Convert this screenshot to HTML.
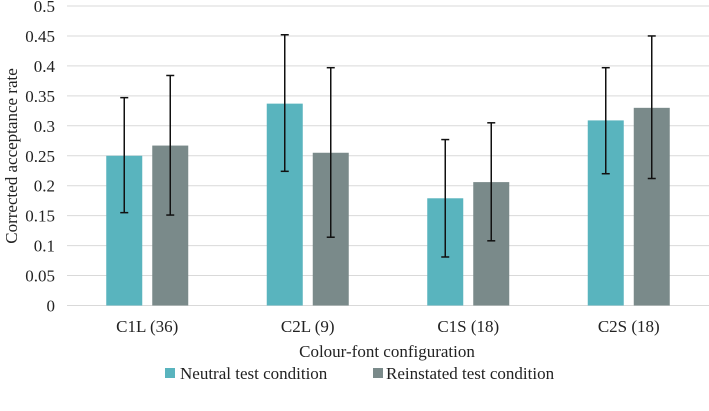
<!DOCTYPE html>
<html><head><meta charset="utf-8"><style>
body{margin:0;background:#fff}
text{font-family:"Liberation Serif","DejaVu Serif",serif !important;fill:#222}
</style></head><body>
<svg id="chart" width="709" height="406" xmlns="http://www.w3.org/2000/svg" font-family="Liberation Serif, serif">
<g id="grid"></g>
<g id="yticks"></g>
<g id="bars"></g>
<g id="xlabels"></g>
<text font-family="Liberation Serif, serif" transform="translate(17,156) rotate(-90)" text-anchor="middle" font-size="17">Corrected acceptance rate</text>
<text font-family="Liberation Serif, serif" x="387" y="357" text-anchor="middle" font-size="17">Colour-font configuration</text>
<g>
<rect x="165" y="368" width="10" height="10" fill="#59b4be"/>
<text font-family="Liberation Serif, serif" x="180" y="379" font-size="17">Neutral test condition</text>
<rect x="373" y="368" width="10" height="10" fill="#7a8a8a"/>
<text font-family="Liberation Serif, serif" x="386" y="379" font-size="17">Reinstated test condition</text>
</g>
</svg>
<script>
const categories=["C1L (36)","C2L (9)","C1S (18)","C2S (18)"];
const neutral=[0.250,0.337,0.179,0.309];
const neutralLo=[0.155,0.224,0.081,0.220];
const neutralHi=[0.347,0.452,0.277,0.397];
const reinstated=[0.267,0.255,0.206,0.330];
const reinstatedLo=[0.151,0.114,0.108,0.212];
const reinstatedHi=[0.384,0.397,0.305,0.450];
const yTicks=[0,0.05,0.1,0.15,0.2,0.25,0.3,0.35,0.4,0.45,0.5];

const NS="http://www.w3.org/2000/svg";
const x0=67,x1=709,y0=305.5,yTop=6;
const y=v=>y0-(v/0.5)*(y0-yTop);
const band=(x1-x0)/categories.length;
const cx=i=>x0+band*(i+0.5);
function mk(tag,attrs,parent){const e=document.createElementNS(NS,tag);for(const k in attrs)e.setAttribute(k,attrs[k]);parent.appendChild(e);return e;}
const grid=document.getElementById('grid'),yt=document.getElementById('yticks'),bars=document.getElementById('bars'),xl=document.getElementById('xlabels');
yTicks.forEach(t=>{
  const l=mk('line',{x1:x0,x2:x1,y1:y(t),y2:y(t),stroke:'#d9d9d9','stroke-width':1},grid);
  
  
  const tx=mk('text',{x:55,y:y(t)+6,'text-anchor':'end','font-size':17,'font-family':'Liberation Serif, serif'},yt);
  tx.textContent=String(t);
  
  
});
const bw=36,gap=10;
function drawBar(xc,v,lo,hi,color,name){
  const r=mk('rect',{x:xc-bw/2,y:y(v),width:bw,height:y0-y(v),fill:color},bars);
  
  
  const g=mk('g',{stroke:'#111','stroke-width':1.5},bars);
  
  
  mk('line',{x1:xc,x2:xc,y1:y(hi),y2:y(lo)},g);
  mk('line',{x1:xc-4,x2:xc+4,y1:y(hi),y2:y(hi)},g);
  mk('line',{x1:xc-4,x2:xc+4,y1:y(lo),y2:y(lo)},g);
}
categories.forEach((c,i)=>{
  drawBar(cx(i)-gap/2-bw/2,neutral[i],neutralLo[i],neutralHi[i],'#59b4be','bar-neutral-'+i);
  drawBar(cx(i)+gap/2+bw/2,reinstated[i],reinstatedLo[i],reinstatedHi[i],'#7a8a8a','bar-reinstated-'+i);
  const t=mk('text',{x:cx(i),y:332,'text-anchor':'middle','font-size':17,'font-family':'Liberation Serif, serif'},xl);
  t.textContent=c;
  
  
});
</script>
</body></html>
